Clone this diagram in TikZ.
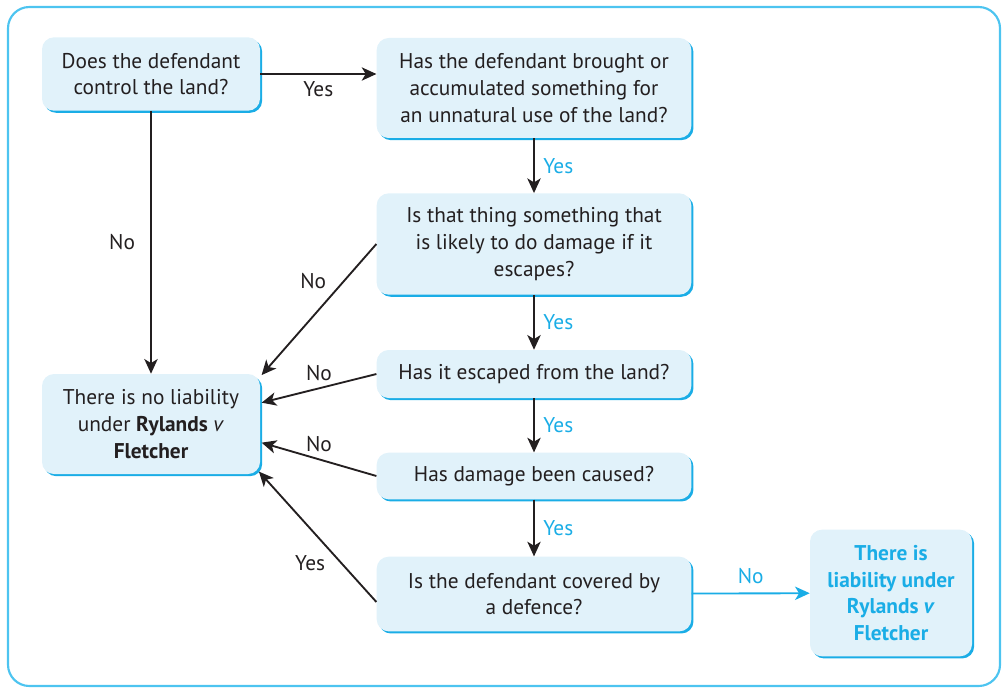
\documentclass[tikz,border=0pt]{standalone}
\usepackage{fontspec}
\setmainfont{PT Sans}
\usetikzlibrary{positioning,arrows.meta,shadows}

\definecolor{boxfill}{HTML}{E1F2FA}
\definecolor{edgeblue}{HTML}{1AADE6}
\definecolor{frameblue}{HTML}{4DC4F0}
\definecolor{txtgray}{HTML}{231F20}

\tikzset{
  qbox/.style={rectangle, rounded corners=9pt, fill=boxfill, align=center, inner sep=2pt,
    text=txtgray, font=\fontsize{16}{20}\selectfont,
    drop shadow={shadow xshift=1.6pt, shadow yshift=-1.6pt, fill=edgeblue, opacity=1}},
  widebox/.style={qbox, minimum width=236pt},
  narrowbox/.style={qbox, minimum width=163.5pt},
  flow/.style={draw=txtgray, line width=1.4pt, -{Stealth[length=11pt,width=10pt,inset=3pt]}},
  lbl/.style={text=txtgray, font=\fontsize{16}{20}\selectfont},
  yeslbl/.style={text=edgeblue, font=\fontsize{16}{20}\selectfont},
}

\begin{document}
\begin{tikzpicture}[x=0.75pt,y=-0.75pt]
  \useasboundingbox (0,0) rectangle (1002,688);
  \draw[frameblue, line width=1.6pt, rounded corners=16pt] (8,7) rectangle (1000,686);

  % question boxes
  \node[narrowbox, minimum height=55pt] (control) at (151,74) {Does the defendant\\control the land?};
  \node[widebox, minimum height=75pt] (brought) at (534,88) {Has the defendant brought or\\accumulated something for\\an unnatural use of the land?};
  \node[widebox, minimum height=76pt] (likely) at (534,244) {Is that thing something that\\is likely to do damage if it\\escapes?};
  \node[widebox, minimum height=36pt] (escaped) at (534,374) {Has it escaped from the land?};
  \node[widebox, minimum height=35pt] (damage) at (534,476) {Has damage been caused?};
  \node[widebox, minimum height=56pt] (defence) at (534,594) {Is the defendant covered by\\a defence?};

  % outcomes
  \node[narrowbox, minimum height=75pt] (noliab) at (151,424) {There is no liability\\under \textbf{Rylands} \textit{v}\\\textbf{Fletcher}};
  \node[qbox, minimum width=121.5pt, minimum height=95pt, text=edgeblue, font=\fontsize{16}{20}\selectfont\bfseries] (liab) at (891,593) {There is\\liability under\\Rylands \textit{v}\\Fletcher};

  % yes chain
  \draw[flow] (control.east) -- node[lbl, below=2pt] {Yes} (control.east -| brought.west);
  \draw[flow] (brought) -- node[yeslbl, right=3pt] {Yes} (likely);
  \draw[flow] (likely) -- node[yeslbl, right=3pt] {Yes} (escaped);
  \draw[flow] (escaped) -- node[yeslbl, right=3pt] {Yes} (damage);
  \draw[flow] (damage) -- node[yeslbl, right=3pt] {Yes} (defence);

  % into no liability
  \draw[flow] (control) -- node[lbl, left=8pt] {No} (noliab);
  \draw[flow] (likely.west) -- node[lbl, pos=0.38, above left=0pt and 1pt] {No} ([xshift=1pt,yshift=-1pt]noliab.north east);
  \draw[flow] (escaped.west) -- node[lbl, above=2pt] {No} ([xshift=1pt,yshift=16pt]noliab.east);
  \draw[flow] (damage.west) -- node[lbl, above=2pt] {No} ([xshift=1pt,yshift=-14pt]noliab.east);
  \draw[flow] ([yshift=-6pt]defence.west) -- node[lbl, pos=0.3, left=8pt] {Yes} ([xshift=-1pt,yshift=2pt]noliab.south east);

  % into liability
  \draw[flow, draw=edgeblue] (defence) -- node[yeslbl, above=3pt] {No} (liab);
\end{tikzpicture}
\end{document}
